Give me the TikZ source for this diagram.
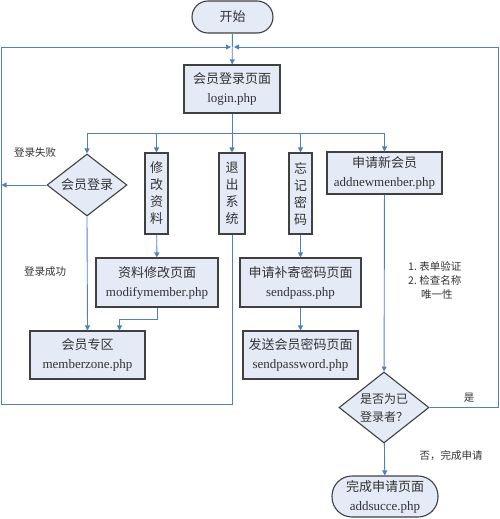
\documentclass[tikz,border=0pt]{standalone}
\usepackage{fontspec}
\setmainfont{Liberation Serif}
\newfontfamily\cjk{Noto Sans CJK SC}
\usetikzlibrary{shapes.geometric,arrows.meta}
\definecolor{fillc}{HTML}{E4EAF6}
\definecolor{edgec}{HTML}{404040}
\definecolor{linec}{HTML}{4F81BD}
\definecolor{txtc}{HTML}{333333}
\tikzset{
  box/.style={draw=edgec, line width=1.1pt, fill=fillc, rectangle, inner sep=0pt, text=txtc, align=center, font=\fontsize{13}{19}\selectfont},
  vbox/.style={box, font=\fontsize{13}{17}\selectfont\cjk},
  term/.style={box},
  dia/.style={box, diamond, shape aspect=1.27},
  lab/.style={text=txtc, font=\fontsize{10.5}{14}\selectfont\cjk, inner sep=0pt},
  con/.style={draw=linec, line width=0.9pt},
  arr/.style={con, -{Triangle[length=5pt,width=5pt]}}
}
\begin{document}
\begin{tikzpicture}[x=1pt,y=-1pt]
\useasboundingbox (0,0) rectangle (500,519);
% nodes
\node[term, rounded corners=16pt, minimum width=81pt, minimum height=32pt] (start) at (232.5,17) {{\cjk 开始}};
\node[box, minimum width=96pt, minimum height=48pt] (login) at (232,89) {{\cjk 会员登录页面}\\login.php};
\node[dia, minimum width=80pt, minimum height=62pt] (d1) at (87,185) {{\cjk 会员登录}};
\node[vbox, minimum width=23pt, minimum height=81pt] (mod) at (156.5,193.5) {修\\改\\资\\料};
\node[vbox, minimum width=26pt, minimum height=81pt] (exit) at (232,193.5) {退\\出\\系\\统};
\node[vbox, minimum width=23pt, minimum height=81pt] (forget) at (300.5,193.5) {忘\\记\\密\\码};
\node[box, minimum width=115pt, minimum height=42pt] (new) at (384.5,173) {{\cjk 申请新会员}\\addnewmenber.php};
\node[box, minimum width=122pt, minimum height=49pt] (modp) at (157,282.5) {{\cjk 资料修改页面}\\modifymember.php};
\node[box, minimum width=115pt, minimum height=48pt] (mz) at (87.5,355) {{\cjk 会员专区}\\memberzone.php};
\node[box, minimum width=121pt, minimum height=49pt] (sp) at (300.5,282.5) {{\cjk 申请补寄密码页面}\\sendpass.php};
\node[box, minimum width=115pt, minimum height=48pt] (spw) at (300.5,355) {{\cjk 发送会员密码页面}\\sendpassword.php};
\node[dia, minimum width=90pt, minimum height=71pt, font=\fontsize{12}{18}\selectfont\cjk] (d2) at (384,407.5) {是否为已\\登录者？};
\node[term, rounded corners=20pt, minimum width=106pt, minimum height=41pt] (end) at (385,496.5) {{\cjk 完成申请页面}\\addsucce.php};
% labels
\node[lab] (fail) at (35,153) {登录失败};
\node[lab] (succ) at (45,272) {登录成功};
\node[lab, anchor=north west, align=left] (check) at (408,261) {1.~表单验证\\2.~检查名称\\\hspace*{13pt}唯一性};
\node[lab] (yes) at (469,398) {是};
\node[lab] (no) at (451,456) {否，完成申请};
% coordinates
\coordinate (tm) at (232.5,47);
\coordinate (tl) at (1.5,47);
\coordinate (tr) at (498.5,47);
\coordinate (bl) at (1.5,404);
\coordinate (br) at (232,133);
% connectors
\draw[arr] (start) -- (login);
\draw[con] (login) -- (br);
\draw[arr] (br) -| (d1.north);
\draw[arr] (br) -| (mod.north);
\draw[arr] (br) -- (exit.north);
\draw[arr] (br) -| (forget.north);
\draw[arr] (br) -| (new.north);
\draw[arr] (d1.west) -- (d1.west -| tl);
\draw[arr] (d1.south) -- (mz.north);
\draw[arr] (mod) -- (modp);
\draw[arr] (modp.south) -- ++(0,12) -| ([xshift=32pt]mz.north);
\draw[arr] (exit.south) |- (bl) -- (tl) -- ([xshift=-1.5pt]tm);
\draw[arr] (forget) -- (sp);
\draw[arr] (sp) -- (spw);
\draw[arr] (new) -- (d2);
\draw[arr] (d2.east) -| (tr) -- ([xshift=1.5pt]tm);
\draw[arr] (d2) -- (end);
\end{tikzpicture}
\end{document}
